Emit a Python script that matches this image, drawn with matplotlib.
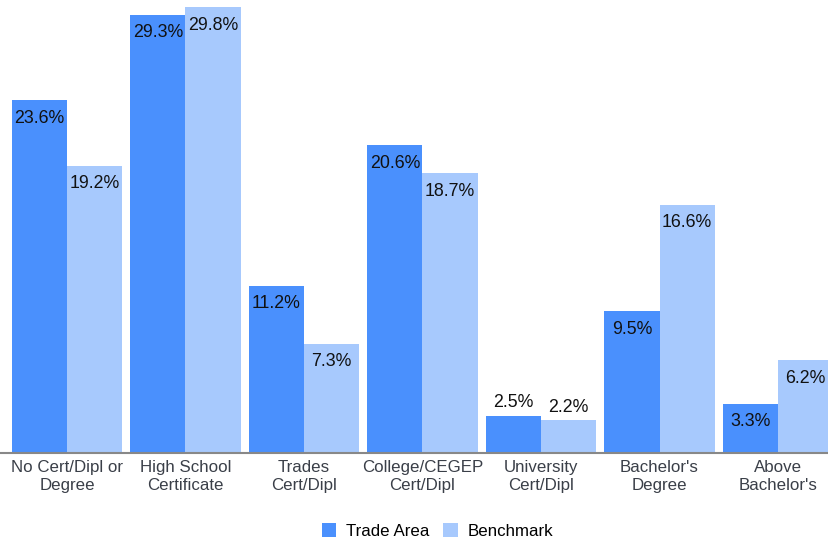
import matplotlib
matplotlib.use("Agg")
import matplotlib.pyplot as plt
import numpy as np

plt.rcParams['font.family'] = ['Liberation Sans', 'DejaVu Sans']

categories = ["No Cert/Dipl or\nDegree", "High School\nCertificate", "Trades\nCert/Dipl",
              "College/CEGEP\nCert/Dipl", "University\nCert/Dipl", "Bachelor's\nDegree",
              "Above\nBachelor's"]
trade_area = [23.6, 29.3, 11.2, 20.6, 2.5, 9.5, 3.3]
benchmark = [19.2, 29.8, 7.3, 18.7, 2.2, 16.6, 6.2]

c_trade = '#4a90fd'
c_bench = '#a7c9fd'

fig = plt.figure(figsize=(8.29, 5.40), dpi=100)
ax = fig.add_axes([0, 0.161, 1, 0.839])

x = np.arange(len(categories))
w = 0.466
b1 = ax.bar(x - w / 2, trade_area, w, color=c_trade, label='Trade Area')
b2 = ax.bar(x + w / 2, benchmark, w, color=c_bench, label='Benchmark')

for bars, vals in ((b1, trade_area), (b2, benchmark)):
    for r, v in zip(bars, vals):
        cx = r.get_x() + r.get_width() / 2
        if v > 3:
            ax.annotate(f"{v}%", (cx, v), xytext=(0, -18), textcoords='offset pixels',
                        ha='center', va='center', fontsize=12.8, color='#111111')
        else:
            ax.annotate(f"{v}%", (cx, v), xytext=(0, 13), textcoords='offset pixels',
                        ha='center', va='center', fontsize=12.8, color='#111111')

ax.set_xlim(-0.565, 6.43)
ax.set_ylim(0, 30.3)
ax.set_yticks([])
ax.set_xticks(x)
ax.set_xticklabels(categories, fontsize=12.2, color='#3a3f48', linespacing=1.28)
ax.tick_params(axis='x', length=0, pad=5)
for s in ['top', 'right', 'left']:
    ax.spines[s].set_visible(False)
ax.spines['bottom'].set_color('#888888')
ax.spines['bottom'].set_linewidth(1.5)

fig.legend(handles=[b1, b2], loc='lower center', bbox_to_anchor=(0.528, -0.026), ncol=2,
           frameon=False, fontsize=12.2, handlelength=0.85, handleheight=0.85,
           handletextpad=0.6, columnspacing=0.8)

fig.savefig('out.png', dpi=100)
